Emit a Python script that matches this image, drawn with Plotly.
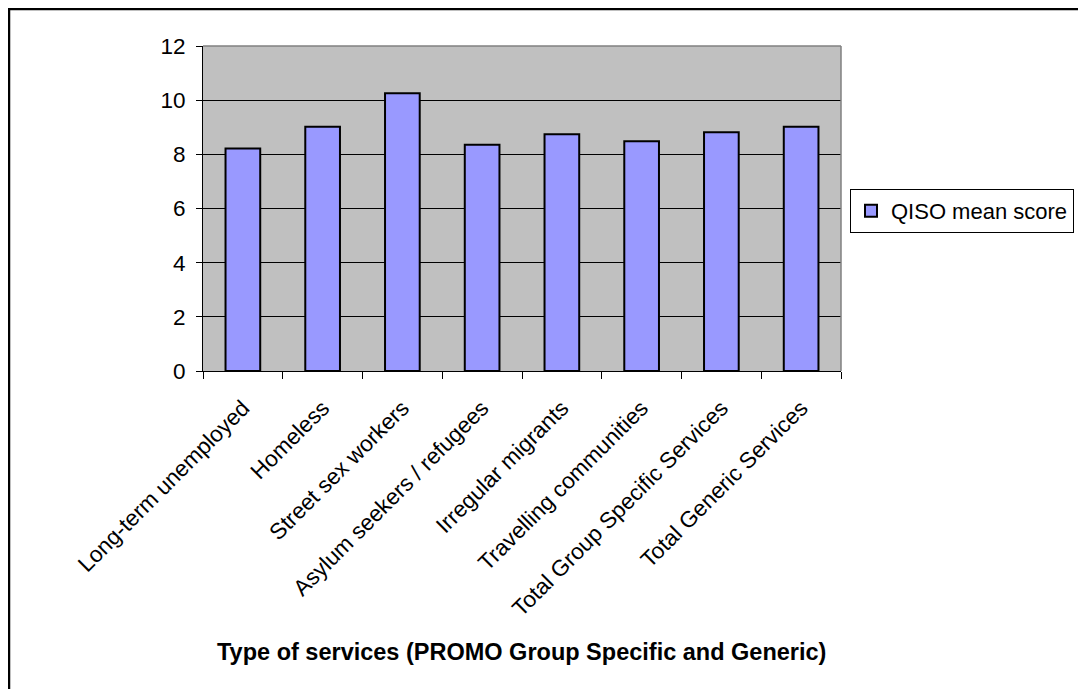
import plotly.graph_objects as go

categories = ["Long-term unemployed", "Homeless", "Street sex workers",
              "Asylum seekers / refugees", "Irregular migrants",
              "Travelling communities", "Total Group Specific Services",
              "Total Generic Services"]
values = [8.22, 9.02, 10.26, 8.35, 8.74, 8.48, 8.82, 9.02]
series_name = "QISO mean score"
x_title = "Type of services (PROMO Group Specific and Generic)"

OFF = 8  # default page body margin
W, H = 1086 - OFF, 689 - OFF
L, R, T, B = 203 - OFF, 841 - OFF, 46 - OFF, 371 - OFF
pw, ph = R - L, B - T

def px_x(px):
    return (px - OFF - L) / pw

def px_y(py):
    return (B - (py - OFF)) / ph

FONT = "Arial, Liberation Sans, sans-serif"
FS = 22.5

fig = go.Figure()
fig.add_trace(go.Bar(
    x=categories, y=values, name=series_name,
    marker=dict(color="#9999FF", line=dict(color="black", width=2)),
    showlegend=True,
))

fig.update_layout(
    width=W, height=H,
    margin=dict(l=L, r=W - R, t=T, b=H - B, autoexpand=False),
    paper_bgcolor="white",
    plot_bgcolor="#C0C0C0",
    bargap=0.565,
    font=dict(family=FONT, size=FS, color="black"),
    showlegend=True,
    legend=dict(
        x=px_x(850), y=px_y(211), xanchor="left", yanchor="middle",
        bgcolor="white", bordercolor="black", borderwidth=1,
        font=dict(family=FONT, size=22, color="black"),
        itemwidth=30,
    ),
    xaxis=dict(
        type="category", tickangle=-45, tickson="boundaries",
        ticks="outside", ticklen=7, tickcolor="black",
        ticklabelstandoff=14,
        showline=True, linecolor="black", linewidth=1,
        showgrid=False,
        tickfont=dict(family=FONT, size=FS, color="black"),
    ),
    yaxis=dict(
        range=[0, 12], dtick=2, tick0=0,
        ticks="outside", ticklen=6, tickcolor="black",
        ticklabelstandoff=6,
        showline=True, linecolor="black", linewidth=1,
        showgrid=True, gridcolor="black", gridwidth=1,
        zeroline=False,
        tickfont=dict(family=FONT, size=FS, color="black"),
    ),
    annotations=[dict(
        text="<b>" + x_title + "</b>", xref="paper", yref="paper",
        x=px_x(521), y=px_y(652), xanchor="center", yanchor="middle",
        showarrow=False, font=dict(family=FONT, size=23.5, color="black"),
    )],
    shapes=[
        dict(type="line", xref="paper", yref="paper", x0=0, x1=1, y0=1, y1=1,
             line=dict(color="#808080", width=1.5), layer="above"),
        dict(type="line", xref="paper", yref="paper", x0=1, x1=1, y0=0, y1=1,
             line=dict(color="#808080", width=1.5), layer="above"),
        dict(type="rect", xref="paper", yref="paper",
             x0=px_x(9), x1=px_x(1100), y0=px_y(700), y1=px_y(9),
             line=dict(color="black", width=2.5), fillcolor="rgba(0,0,0,0)",
             layer="above"),
    ],
)

fig.write_html("out.html")
